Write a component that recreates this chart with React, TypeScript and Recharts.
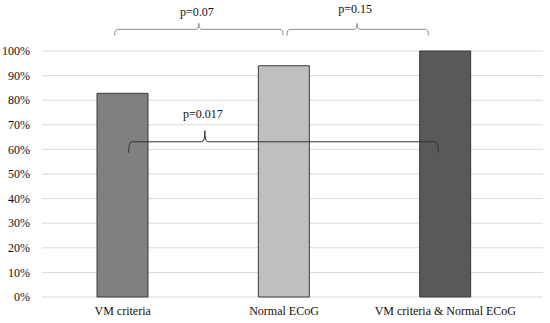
import React from 'react';
import { BarChart, Bar, XAxis, YAxis, CartesianGrid, Cell, ReferenceLine } from 'recharts';

const categories = ['VM criteria', 'Normal ECoG', 'VM criteria & Normal ECoG'];
const values = [0.828, 0.94, 1.0];
const yTicks = [0, 0.1, 0.2, 0.3, 0.4, 0.5, 0.6, 0.7, 0.8, 0.9, 1.0];
const barColors = ['#808080', '#bfbfbf', '#595959'];

const bracketFrom = ['VM criteria', 'Normal ECoG', 'VM criteria'];
const bracketTo = ['Normal ECoG', 'VM criteria & Normal ECoG', 'VM criteria & Normal ECoG'];
const bracketLevel = [1.088, 1.088, 0.631];
const bracketLabels = ['p=0.07', 'p=0.15', 'p=0.017'];

// drawing styles for the brackets (pixel offsets relative to the category centres)
const bracketStyle = [
  { dx1: -8, dx2: -1, tickFrac: 0.5, drop: 6, tickH: 6, color: '#8c8c8c', textGap: 7 },
  { dx1: 3, dx2: -17, tickFrac: 0.496, drop: 6, tickH: 6, color: '#8c8c8c', textGap: 10 },
  { dx1: 6, dx2: -7, tickFrac: 0.246, drop: 11, tickH: 11, color: '#333333', textGap: 13 },
];

const data = categories.map((c, i) => ({ name: c, value: values[i] }));

const FONT = '"Liberation Serif", "Times New Roman", serif';

const makeBracket = (i: number) => (props: any) => {
  const s = bracketStyle[i];
  const x1 = Number(props.x1) + s.dx1;
  const x2 = Number(props.x2) + s.dx2;
  const y = Number(props.y1);
  const tx = x1 + (x2 - x1) * s.tickFrac;
  const r = 3;
  const d = [
    `M ${x1} ${y + s.drop}`,
    `Q ${x1} ${y} ${x1 + r} ${y}`,
    `L ${tx - r} ${y}`,
    `Q ${tx} ${y} ${tx} ${y - s.tickH}`,
    `Q ${tx} ${y} ${tx + r} ${y}`,
    `L ${x2 - r} ${y}`,
    `Q ${x2} ${y} ${x2} ${y + s.drop}`,
  ].join(' ');
  return (
    <g>
      <path d={d} fill="none" stroke={s.color} strokeWidth={1} />
      <text
        x={tx - 2}
        y={y - s.tickH - s.textGap}
        textAnchor="middle"
        fontFamily={FONT}
        fontSize={12}
        fill="#111"
      >
        {bracketLabels[i]}
      </text>
    </g>
  );
};

export default function App() {
  return (
    <div style={{ position: 'absolute', left: 0, top: 0, width: 550, height: 323, background: '#fff' }}>
      <BarChart
        width={550}
        height={323}
        data={data}
        margin={{ top: 51, right: 7, bottom: 0, left: 0 }}
      >
        <CartesianGrid vertical={false} stroke="#d9d9d9" strokeWidth={1} />
        <XAxis
          dataKey="name"
          axisLine={false}
          tickLine={false}
          tickSize={0}
          tickMargin={9}
          height={26}
          padding={{ left: 0, right: 17 }}
          interval={0}
          tick={{ fontFamily: FONT, fontSize: 12, fill: '#111' }}
        />
        <YAxis
          width={42}
          domain={[0, 1]}
          ticks={yTicks}
          axisLine={false}
          tickLine={false}
          tickSize={0}
          tickMargin={12}
          tickFormatter={(v: number) => `${Math.round(v * 100)}%`}
          tick={{ fontFamily: FONT, fontSize: 12, fill: '#111' }}
        />
        <Bar dataKey="value" barSize={51} isAnimationActive={false} stroke="#3a3a3a" strokeWidth={1}>
          {data.map((_, i) => (
            <Cell key={i} fill={barColors[i]} />
          ))}
        </Bar>
        {bracketLabels.map((_, i) => (
          <ReferenceLine
            key={i}
            segment={[
              { x: bracketFrom[i], y: bracketLevel[i] },
              { x: bracketTo[i], y: bracketLevel[i] },
            ]}
            ifOverflow="visible"
            shape={makeBracket(i)}
          />
        ))}
      </BarChart>
    </div>
  );
}
